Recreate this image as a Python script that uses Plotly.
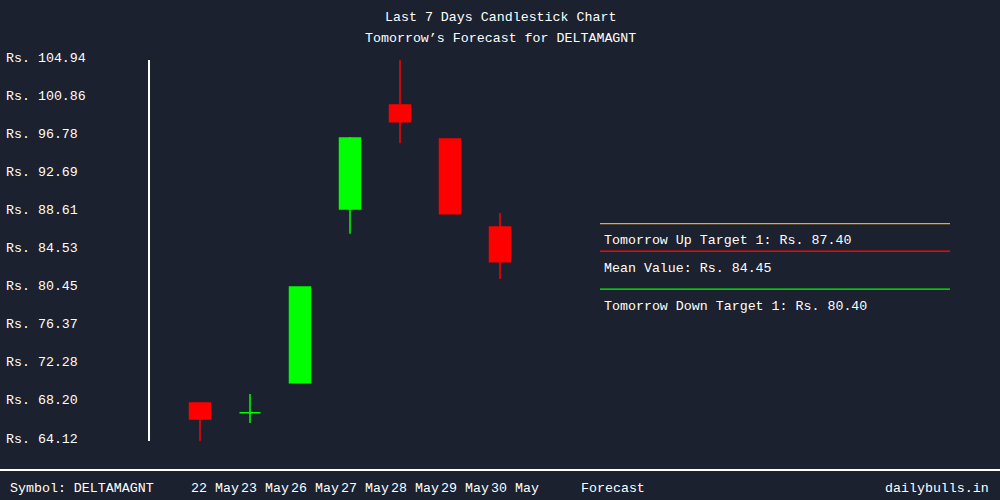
import plotly.graph_objects as go

# ---- data ----
dates = ["22 May", "23 May", "26 May", "27 May", "28 May", "29 May", "30 May"]
opens = [68.19, 67.15, 70.37, 88.98, 100.12, 96.48, 87.05]
highs = [68.19, 69.16, 80.62, 96.69, 104.94, 96.48, 88.55]
lows = [64.12, 66.05, 70.37, 86.33, 96.05, 88.47, 81.48]
closes = [66.48, 67.15, 80.62, 96.58, 98.33, 88.47, 83.33]

tick_values = [104.94, 100.86, 96.78, 92.69, 88.61, 84.53, 80.45, 76.37, 72.28, 68.20, 64.12]
tick_labels = ["Rs. %.2f" % v for v in tick_values]

up_target = 87.40
mean_value = 84.45
down_target = 80.40
symbol = "DELTAMAGNT"

# ---- style ----
BG = "#1b212e"
FONT = "Liberation Mono"
RED = "#ff0000"
GREEN = "#00ff00"
WHITE = "#ffffff"
ORANGE = "#f5a623"

x_pos = list(range(len(dates)))

fig = go.Figure()
fig.add_trace(go.Candlestick(
    x=x_pos, open=opens, high=highs, low=lows, close=closes,
    increasing=dict(line=dict(color=GREEN, width=1.5), fillcolor=GREEN),
    decreasing=dict(line=dict(color=RED, width=1.5), fillcolor=RED),
    whiskerwidth=0, showlegend=False, hoverinfo="skip",
))

fc_x0, fc_x1 = 8, 15
shapes = [
    dict(type="line", xref="x", yref="y", x0=fc_x0, x1=fc_x1, y0=up_target, y1=up_target,
         line=dict(color=ORANGE, width=1.2)),
    dict(type="line", xref="x", yref="y", x0=fc_x0, x1=fc_x1, y0=mean_value, y1=mean_value,
         line=dict(color=RED, width=1.5)),
    dict(type="line", xref="x", yref="y", x0=fc_x0, x1=fc_x1, y0=down_target, y1=down_target,
         line=dict(color=GREEN, width=1.2)),
    dict(type="line", xref="paper", yref="paper", x0=-150 / 850, x1=1.0, y0=-29 / 381, y1=-29 / 381,
         line=dict(color=WHITE, width=2)),
]

text_font = dict(family=FONT, size=13.3, color=WHITE)

annotations = []
for v, t in zip(tick_values, tick_labels):
    annotations.append(dict(xref="paper", yref="y", x=-146 / 850, y=v, text=t, showarrow=False,
                            xanchor="left", yanchor="middle", yshift=2, font=text_font))

annotations += [
    dict(xref="x", yref="y", x=fc_x0 + 0.04, y=up_target, text="Tomorrow Up Target 1: Rs. %.2f" % up_target,
         showarrow=False, xanchor="left", yanchor="middle", yshift=-17, font=text_font),
    dict(xref="x", yref="y", x=fc_x0 + 0.04, y=mean_value, text="Mean Value: Rs. %.2f" % mean_value,
         showarrow=False, xanchor="left", yanchor="middle", yshift=-17, font=text_font),
    dict(xref="x", yref="y", x=fc_x0 + 0.04, y=down_target, text="Tomorrow Down Target 1: Rs. %.2f" % down_target,
         showarrow=False, xanchor="left", yanchor="middle", yshift=-17, font=text_font),
]

bottom_y = -47 / 381
for xp, d in zip(x_pos, dates):
    annotations.append(dict(xref="x", yref="paper", x=xp - 0.22, y=bottom_y, text=d, showarrow=False,
                            xanchor="left", yanchor="middle", font=text_font))
annotations += [
    dict(xref="x", yref="paper", x=7.58, y=bottom_y, text="Forecast", showarrow=False,
         xanchor="left", yanchor="middle", font=text_font),
    dict(xref="paper", yref="paper", x=-142 / 850, y=bottom_y, text="Symbol: " + symbol, showarrow=False,
         xanchor="left", yanchor="middle", font=text_font),
    dict(xref="paper", yref="paper", x=841 / 850, y=bottom_y, text="dailybulls.in", showarrow=False,
         xanchor="right", yanchor="middle", font=text_font),
    dict(xref="paper", yref="paper", x=350 / 850, y=(441 - 18) / 381, text="Last 7 Days Candlestick Chart",
         showarrow=False, xanchor="center", yanchor="middle", font=text_font),
    dict(xref="paper", yref="paper", x=350 / 850, y=(441 - 38) / 381, text="Tomorrow\u2019s Forecast for " + symbol,
         showarrow=False, xanchor="center", yanchor="middle", font=text_font),
]

fig.update_layout(
    width=1000, height=500,
    margin=dict(l=150, r=0, t=60, b=59),
    paper_bgcolor=BG, plot_bgcolor=BG,
    font=dict(family=FONT, size=13, color=WHITE),
    xaxis=dict(range=[-1, 16], showgrid=False, zeroline=False, showticklabels=False,
               showline=False, rangeslider=dict(visible=False), fixedrange=True),
    yaxis=dict(range=[64.12, 104.94], showgrid=False, zeroline=False, showticklabels=False,
               showline=True, linecolor=WHITE, linewidth=1.5, fixedrange=True),
    shapes=shapes, annotations=annotations,
    boxgap=0.58, boxgroupgap=0,
)

fig.write_html("out.html", config={"displayModeBar": False},
               post_script="document.body.style.margin='0px';document.body.style.background='%s';" % BG)
